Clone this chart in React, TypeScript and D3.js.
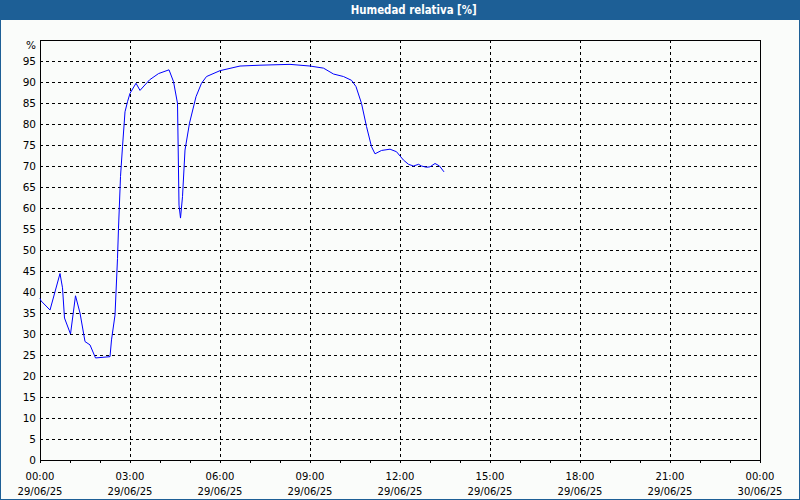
import React from "react";
import * as d3 from "d3";

const TITLE = "Humedad relativa [%]";
// minutes since 29/06/25 00:00
const minutes = [0, 2, 20, 40, 45, 49, 61, 71, 80, 90, 100, 111, 140, 143, 150, 155, 157, 161, 165, 170, 175, 180, 192, 200, 219, 237, 258, 267, 275, 278, 281, 285, 290, 299, 312, 323, 333, 360, 400, 440, 500, 540, 567, 587, 607, 623, 632, 643, 653, 663, 670, 683, 700, 713, 727, 737, 747, 757, 763, 773, 780, 790, 799, 808];
const humidity = [38.5, 37.9, 35.7, 44.4, 41, 33.8, 30, 39.1, 35, 28.2, 27.4, 24.3, 24.6, 28.6, 34.5, 48, 55.2, 67.5, 74.6, 82.9, 85.3, 87.3, 89.7, 88, 90.5, 92, 92.9, 90.1, 84.9, 60.7, 57.6, 62.7, 73.8, 80.2, 86.5, 89.7, 91.3, 92.7, 93.8, 94.0, 94.2, 93.8, 93.3, 91.9, 91.3, 90.4, 88.9, 84.9, 79.4, 74.6, 72.9, 73.7, 74.0, 73.4, 71.4, 70.4, 70.0, 70.4, 70, 69.7, 69.8, 70.6, 70, 68.6];
const yTicks = [0, 5, 10, 15, 20, 25, 30, 35, 40, 45, 50, 55, 60, 65, 70, 75, 80, 85, 90, 95];
const xTickHours = [0, 3, 6, 9, 12, 15, 18, 21, 24];
const xTickTimes = ["00:00", "03:00", "06:00", "09:00", "12:00", "15:00", "18:00", "21:00", "00:00"];
const xTickDates = ["29/06/25", "29/06/25", "29/06/25", "29/06/25", "29/06/25", "29/06/25", "29/06/25", "29/06/25", "30/06/25"];

export default function App() {
  const W = 800, H = 500;
  const L = 40, R = 760, T = 40, B = 460;
  const x = d3.scaleLinear().domain([0, 24 * 60]).range([L, R]);
  const y = d3.scaleLinear().domain([0, 100]).range([B, T]);
  const line = d3.line<number>().x((_, i) => x(minutes[i])).y((d) => y(d));
  const minor = d3.range(0, 25);
  const font = "'DejaVu Sans', Verdana, sans-serif";
  return (
    <div>
      <style>{`body{margin:0}`}</style>
      <svg width={W} height={H} style={{ display: "block" }}>
        <rect x={0} y={0} width={W} height={H} fill="#fafcfa" />
        <rect x={0.5} y={0.5} width={W - 1} height={H - 1} fill="none" stroke="#1d5f96" />
        <rect x={0} y={0} width={W} height={20} fill="#1d5f96" />
        <text x={413.7} y={14} textAnchor="middle" fill="#fff" fontFamily="'DejaVu Sans', sans-serif" fontWeight="bold" fontSize={11.5} textLength={126} lengthAdjust="spacingAndGlyphs">{TITLE}</text>
        {yTicks.filter((t) => t > 0).map((t) => (
          <line key={"h" + t} x1={L} x2={R} y1={Math.round(y(t)) + 0.5} y2={Math.round(y(t)) + 0.5} stroke="#000" strokeDasharray="3,3" />
        ))}
        {xTickHours.filter((h) => h > 0 && h < 24).map((h) => (
          <line key={"v" + h} x1={Math.round(x(h * 60)) + 0.5} x2={Math.round(x(h * 60)) + 0.5} y1={T} y2={B} stroke="#000" strokeDasharray="3,3" />
        ))}
        {minor.map((h) => (
          <line key={"m" + h} x1={Math.round(x(h * 60)) + 0.5} x2={Math.round(x(h * 60)) + 0.5} y1={B} y2={B + 3} stroke="#000" />
        ))}
        <rect x={L + 0.5} y={T + 0.5} width={R - L} height={B - T} fill="none" stroke="#000" />
        <path d={line(humidity) || ""} fill="none" stroke="#0000ff" strokeWidth={1} />
        {yTicks.map((t) => (
          <text key={"yl" + t} x={36} y={y(t)} dy="0.35em" textAnchor="end" fontFamily={font} fontSize={10.5} fill="#000">{t}</text>
        ))}
        <text x={36} y={45} dy="0.35em" textAnchor="end" fontFamily={font} fontSize={10.5} fill="#000">%</text>
        {xTickHours.map((h, i) => (
          <g key={"xl" + h}>
            <text x={x(h * 60)} y={479.5} textAnchor="middle" fontFamily={font} fontSize={10} fill="#000">{xTickTimes[i]}</text>
            <text x={x(h * 60)} y={494.5} textAnchor="middle" fontFamily={font} fontSize={10} fill="#000">{xTickDates[i]}</text>
          </g>
        ))}
      </svg>
    </div>
  );
}
